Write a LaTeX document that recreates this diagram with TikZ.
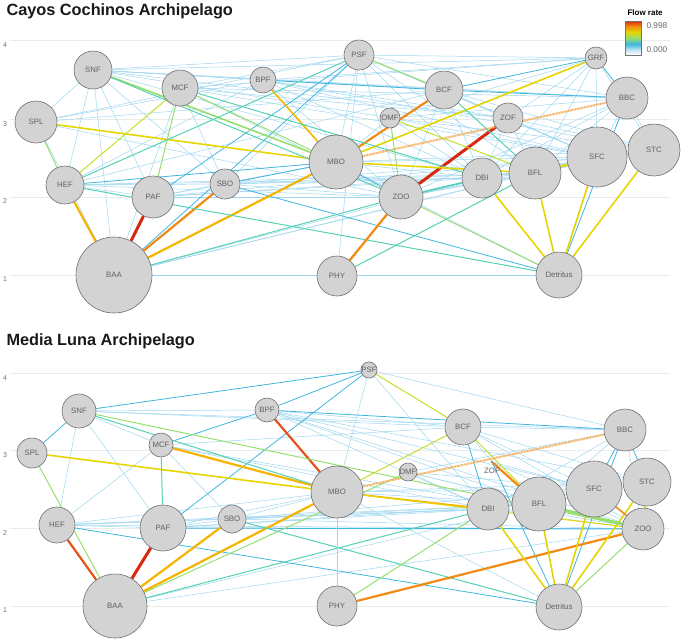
\documentclass[tikz,border=0pt]{standalone}
\usepackage{fontspec}
\setmainfont{Liberation Sans}
\definecolor{lb}{HTML}{9ED6EF}
\definecolor{cb}{HTML}{3FB6DF}
\definecolor{ct}{HTML}{55D1B5}
\definecolor{cg}{HTML}{96DF6E}
\definecolor{cyg}{HTML}{C5DE2A}
\definecolor{cy}{HTML}{E6D500}
\definecolor{co}{HTML}{F6B400}
\definecolor{cor}{HTML}{F28A12}
\definecolor{crd}{HTML}{E3521A}
\definecolor{cr}{HTML}{D8280E}
\definecolor{gridc}{HTML}{EBEBEB}
\definecolor{ndfill}{HTML}{D3D3D3}
\definecolor{ndline}{HTML}{6E6E6E}
\pgfdeclarelayer{bg}
\pgfsetlayers{bg,main}
\newcommand\nd[5]{\node[ndstyle,minimum size={2*#4pt}] (#1) at (#2,#3) {#5};}
\begin{document}
\begin{tikzpicture}[x=1pt,y=-1pt,
  ndstyle/.style={circle,draw=ndline,fill=ndfill,line width=0.6pt,inner sep=0pt,font=\fontsize{7.8}{8}\selectfont,text=black!62},
  gridl/.style={draw=gridc,line width=0.9pt},
  axl/.style={font=\fontsize{7}{7}\selectfont,text=black!55,anchor=center},
  ttl/.style={font=\bfseries\fontsize{16.3}{17}\selectfont,anchor=base west,text=black!90},
  thinb/.style={draw=lb,line width=0.5pt},
  medb/.style={draw=cb,line width=0.8pt},
  wa/.style={line width=1pt},
  wb/.style={line width=1.6pt},
  wc/.style={line width=2.2pt},
  wd/.style={line width=3pt},
  hatch/.style={draw=cor!70!white,line width=2pt,dash pattern=on 0.9pt off 0.6pt}]
\useasboundingbox (0,0) rectangle (685,641);
% titles
\node[ttl] (title1) at (3,15) {Cayos Cochinos Archipelago};
\node[ttl] (title2) at (3,345) {Media Luna Archipelago};
% axis labels
\node[axl] (a4) at (5,45) {4};
\node[axl] (a3) at (5,124) {3};
\node[axl] (a2) at (5,201) {2};
\node[axl] (a1) at (5,279) {1};
\node[axl] (b4) at (5,378) {4};
\node[axl] (b3) at (5,455) {3};
\node[axl] (b2) at (5,533) {2};
\node[axl] (b1) at (5,610) {1};
% legend
\node[font=\bfseries\fontsize{8}{8}\selectfont,anchor=base west] (legt) at (624,15) {Flow rate};
\shade[top color=cr,bottom color=cor] (625,21) rectangle (641,26);
\shade[top color=cor,bottom color=cy] (625,26) rectangle (641,32);
\shade[top color=cy,bottom color=cg] (625,32) rectangle (641,38);
\shade[top color=cg,bottom color=cb] (625,38) rectangle (641,44);
\shade[top color=cb,bottom color=lb!60] (625,44) rectangle (641,50);
\shade[top color=lb!60,bottom color=white] (625,50) rectangle (641,55);
\draw[black!55,line width=0.6pt] (625,21) rectangle (641,55);
\node[font=\fontsize{8.3}{8}\selectfont,text=black!60,anchor=west] (l1) at (643,26) {0.998};
\node[font=\fontsize{8.3}{8}\selectfont,text=black!60,anchor=west] (l0) at (643,50) {0.000};
% ---------- top nodes
\nd{tSNF}{93}{70}{19}{SNF}
\nd{tMCF}{180}{88}{18}{MCF}
\nd{tBPF}{263}{80}{13}{BPF}
\nd{tSPL}{36}{122}{21}{SPL}
\nd{tPSF}{359}{55}{15}{PSF}
\nd{tBCF}{444}{90}{19}{BCF}
\nd{tGRF}{596}{58}{11}{GRF}
\nd{tBBC}{627}{98}{21}{BBC}
\nd{tOMF}{390}{118}{10}{OMF}
\nd{tZOF}{508}{118}{15}{ZOF}
\nd{tMBO}{336}{162}{27}{MBO}
\nd{tSTC}{654}{150}{26}{STC}
\nd{tSFC}{597}{157}{30}{SFC}
\nd{tBFL}{535}{173}{26}{BFL}
\nd{tDBI}{482}{178}{20}{DBI}
\nd{tZOO}{401}{197}{22}{ZOO}
\nd{tSBO}{225}{184}{15}{SBO}
\nd{tPAF}{153}{197}{21}{PAF}
\nd{tHEF}{65}{185}{19}{HEF}
\nd{tBAA}{114}{275}{38}{BAA}
\nd{tPHY}{337}{276}{20}{PHY}
\nd{tDET}{559}{275}{23}{Detritus}
% ---------- bottom nodes
\nd{bPSF}{369}{370}{8}{PSF}
\nd{bSNF}{79}{411}{17}{SNF}
\nd{bBPF}{267}{410}{12}{BPF}
\nd{bSPL}{32}{453}{15}{SPL}
\nd{bMCF}{161}{445}{12}{MCF}
\nd{bBCF}{463}{427}{18}{BCF}
\nd{bBBC}{625}{430}{21}{BBC}
\nd{bOMF}{408}{472}{9}{DMF}
\node[circle,fill=black!60,inner sep=0pt,minimum size=2.2pt] (bZOF) at (492,462) {};
\node[font=\fontsize{7.8}{8}\selectfont,text=black!62] (bZOFl) at (492,471) {ZOF};
\nd{bMBO}{337}{492}{26}{MBO}
\nd{bDBI}{488}{509}{21}{DBI}
\nd{bBFL}{539}{504}{27}{BFL}
\nd{bSFC}{594}{489}{28}{SFC}
\nd{bSTC}{647}{482}{24}{STC}
\nd{bZOO}{643}{529}{21}{ZOO}
\nd{bSBO}{232}{519}{14}{SBO}
\nd{bPAF}{163}{528}{23}{PAF}
\nd{bHEF}{57}{525}{18}{HEF}
\nd{bBAA}{115}{606}{32}{BAA}
\nd{bPHY}{337}{606}{20}{PHY}
\nd{bDET}{559}{607}{23}{Detritus}
\begin{pgfonlayer}{bg}
% grid lines
\foreach \y in {40,119,197,275,373,450,528,606} \draw[gridl] (10,\y) -- (670,\y);
% ---------- top thin edges
\foreach \a/\b in {SNF/PSF,SNF/BPF,SNF/GRF,SNF/BCF,SNF/BBC,SNF/OMF,SNF/SPL,SNF/HEF,SNF/PAF,SNF/BAA,SNF/SBO,SNF/DBI,SNF/ZOF,
 MCF/GRF,MCF/BBC,MCF/PSF,MCF/ZOF,MCF/ZOO,MCF/SBO,MCF/BAA,MCF/SFC,
 BPF/GRF,BPF/BBC,BPF/ZOF,BPF/SFC,BPF/DBI,BPF/ZOO,BPF/HEF,BPF/STC,
 SPL/PSF,SPL/BCF,SPL/BPF,SPL/BAA,SPL/ZOO,
 PSF/GRF,PSF/BBC,PSF/ZOF,PSF/MBO,PSF/ZOO,PSF/DBI,PSF/SFC,PSF/PHY,PSF/SBO,PSF/BFL,
 BCF/SFC,BCF/ZOO,BCF/DBI,BCF/STC,BCF/HEF,
 GRF/ZOF,GRF/DBI,GRF/BFL,GRF/SFC,GRF/STC,GRF/OMF,
 BBC/OMF,BBC/DBI,BBC/BFL,BBC/SFC,BBC/STC,BBC/ZOO,
 OMF/DBI,OMF/SFC,OMF/STC,OMF/MBO,
 ZOF/SFC,ZOF/STC,ZOF/BFL,ZOF/DBI,
 MBO/SFC,MBO/STC,MBO/DBI,MBO/PAF,MBO/DET,
 HEF/SBO,HEF/ZOO,HEF/DBI,HEF/BFL,HEF/PAF,
 PAF/ZOO,PAF/DBI,PAF/SFC,PAF/BFL,PAF/SBO,
 SBO/ZOO,SBO/BFL,SBO/SFC,SBO/DBI,
 BAA/DBI,BAA/BFL,BAA/SFC,BAA/DET,
 ZOO/SFC,ZOO/STC,ZOO/BFL,DBI/SFC,DBI/STC,BFL/STC}
 \draw[thinb] (t\a) -- (t\b);
\foreach \a/\b in {BPF/BCF,BCF/BBC,BCF/GRF,BAA/PSF,PAF/PSF,SBO/DET,MBO/ZOO,BBC/DET,GRF/BBC,HEF/MBO,SBO/MBO,SFC/DET}
 \draw[medb] (t\a) -- (t\b);
% top coloured edges
\draw[cr,wd] (tPAF) -- (tBAA);
\draw[co,wc] (tHEF) -- (tBAA);
\draw[cor,wc] (tSBO) -- (tBAA);
\draw[co,wc] (tBAA) -- (tMBO);
\draw[ct,wa] (tBAA) -- (tZOO);
\draw[ct,wa] (tHEF) -- (tDET);
\draw[cg,wa] (tZOO) -- (tDET);
\draw[cy,wb] (tDBI) -- (tDET);
\draw[cy,wb] (tBFL) -- (tDET);
\draw[cy,wb] (tSFC) -- (tDET);
\draw[cy,wb] (tSTC) -- (tDET);
\draw[cor,wc] (tPHY) -- (tZOO);
\draw[ct,wa] (tPHY) -- (tBFL);
\draw[cr,wd] (tZOO) -- (tZOF);
\draw[hatch] (tMBO) -- (tBBC);
\draw[cor,wc] (tBCF) -- (tMBO);
\draw[cy,wb] (tGRF) -- (tMBO);
\draw[co,wb] (tBPF) -- (tMBO);
\draw[cy,wb] (tSPL) -- (tMBO);
\draw[cg,wb] (tSNF) -- (tMBO);
\draw[ct,wa] (tSNF) -- (tZOO);
\draw[cg,wa] (tMCF) -- (tMBO);
\draw[ct,wa] (tMCF) -- (tDBI);
\draw[cg,wa] (tOMF) -- (tZOO);
\draw[cyg,wa] (tOMF) -- (tBFL);
\draw[ct,wa] (tBCF) -- (tBFL);
\draw[cg,wa] (tPSF) -- (tBCF);
\draw[cy,wb] (tMBO) -- (tBFL);
\draw[ct,wb] (tZOO) -- (tDBI);
\draw[cy,wc] (tBFL) -- (tSFC);
\draw[cy,wa] (tSFC) -- (tSTC);
\draw[cg,wa] (tSPL) -- (tHEF);
\draw[cyg,wa] (tHEF) -- (tMCF);
\draw[cg,wa] (tPAF) -- (tMCF);
\draw[ct,wa] (tHEF) -- (tPSF);
% ---------- bottom thin edges
\foreach \a/\b in {SNF/BPF,SNF/BCF,SNF/BBC,SNF/PAF,SNF/HEF,SNF/MCF,
 BPF/BCF,BPF/DBI,BPF/BFL,BPF/SFC,BPF/ZOO,BPF/STC,
 MCF/BCF,MCF/DBI,MCF/HEF,MCF/ZOO,MCF/SBO,
 PSF/BBC,PSF/DBI,PSF/MBO,
 BCF/BBC,BCF/SFC,BCF/STC,BCF/ZOO,BCF/ZOF,
 BBC/DBI,BBC/BFL,BBC/ZOO,BBC/OMF,
 OMF/DBI,OMF/SFC,OMF/ZOO,OMF/BFL,
 MBO/BFL,MBO/SFC,MBO/STC,MBO/HEF,MBO/PAF,MBO/SBO,MBO/DET,
 HEF/SBO,HEF/DBI,HEF/BFL,HEF/ZOO,HEF/PAF,
 PAF/DBI,PAF/BFL,PAF/SBO,
 SBO/DBI,SBO/BFL,SBO/ZOO,SBO/SFC,
 BAA/BFL,BAA/ZOO,
 DBI/ZOO,DBI/SFC,ZOF/ZOO,ZOF/SFC,BFL/STC}
 \draw[thinb] (b\a) -- (b\b);
\foreach \a/\b in {SNF/SPL,SNF/PSF,BPF/PSF,MCF/BPF,PAF/PSF,HEF/DET,ZOF/DET,BBC/DET,BPF/BBC,BBC/SFC,BBC/STC,BCF/DBI}
 \draw[medb] (b\a) -- (b\b);
\draw[cb,wa] (bPAF) -- (bZOO);
% bottom coloured edges
\draw[cr,wd] (bPAF) -- (bBAA);
\draw[crd,wc] (bHEF) -- (bBAA);
\draw[cg,wa] (bSPL) -- (bBAA);
\draw[co,wc] (bSBO) -- (bBAA);
\draw[co,wc] (bBAA) -- (bMBO);
\draw[cg,wa] (bBAA) -- (bOMF);
\draw[ct,wa] (bBAA) -- (bDBI);
\draw[ct,wa] (bSBO) -- (bDET);
\draw[cor,wc] (bPHY) -- (bZOO);
\draw[cg,wa] (bPHY) -- (bDBI);
\draw[thinb] (bPHY) -- (bMBO);
\draw[cy,wb] (bDBI) -- (bDET);
\draw[cy,wb] (bBFL) -- (bDET);
\draw[cy,wb] (bSFC) -- (bDET);
\draw[cy,wb] (bSTC) -- (bDET);
\draw[cg,wa] (bZOO) -- (bDET);
\draw[crd,wc] (bBPF) -- (bMBO);
\draw[co,wc] (bMCF) -- (bMBO);
\draw[cy,wb] (bSPL) -- (bMBO);
\draw[co,wb] (bMBO) -- (bDBI);
\draw[ct,wa] (bSNF) -- (bMBO);
\draw[cg,wa] (bSNF) -- (bZOO);
\draw[ct,wa] (bMCF) -- (bPAF);
\draw[cyg,wa] (bPSF) -- (bBCF);
\draw[cyg,wa] (bBCF) -- (bMBO);
\draw[cyg,wa] (bBCF) -- (bBFL);
\draw[cor,wc] (bZOF) -- (bBFL);
\draw[hatch] (bMBO) -- (bBBC);
\draw[cg,wd] (bBFL) -- (bZOO);
\draw[cor,wb] (bSFC) -- (bZOO);
\draw[cy,wb] (bSTC) -- (bZOO);
\draw[cy,wa] (bMBO) -- (bZOO);
\end{pgfonlayer}
\end{tikzpicture}
\end{document}
